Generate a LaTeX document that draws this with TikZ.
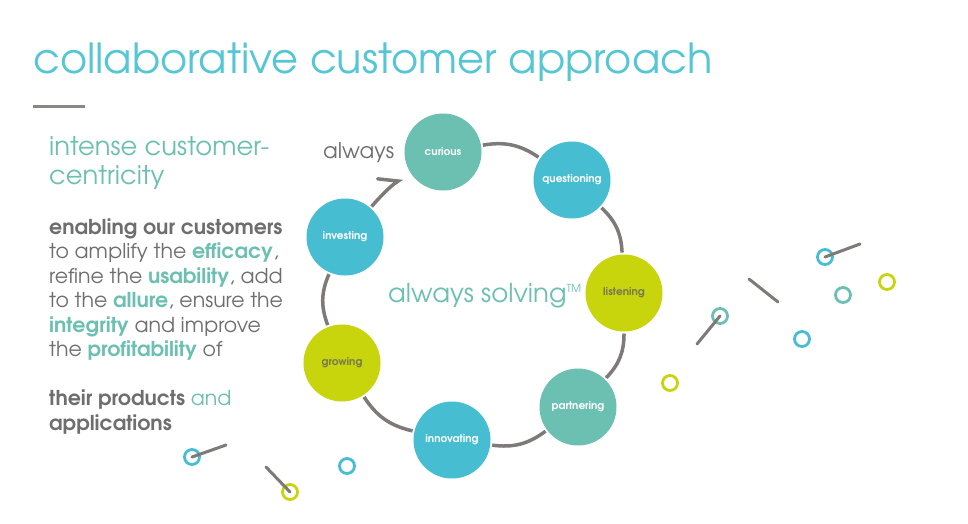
\documentclass[tikz,border=0pt]{standalone}
\usepackage{fontspec}
\setmainfont{TeX Gyre Adventor}
\usetikzlibrary{arrows.meta, positioning}

\definecolor{titlecyan}{HTML}{55C6D4}
\definecolor{skycyan}{HTML}{47BDD1}
\definecolor{seateal}{HTML}{6BC0B2}
\definecolor{limeyellow}{HTML}{C8D40C}
\definecolor{loopgray}{HTML}{7D7A79}
\definecolor{bodygray}{HTML}{6E6E6E}
\definecolor{labelolive}{HTML}{77784F}

\newcommand{\keyterm}[1]{\textcolor{seateal}{\textbf{#1}}}

\tikzset{
  stage/.style={circle, minimum size=77pt, inner sep=0pt, outer sep=2pt,
    font=\bfseries\fontsize{10.5}{12}\selectfont, text=white},
  cyanstage/.style={stage, fill=skycyan},
  tealstage/.style={stage, fill=seateal},
  limestage/.style={stage, fill=limeyellow, text=labelolive},
  loopline/.style={draw=loopgray, line width=3.5pt},
  ring/.style={circle, draw, line width=2.8pt, minimum size=15pt, inner sep=0pt},
  stick/.style={draw=loopgray, line width=3pt, line cap=round},
}

\begin{document}
\begin{tikzpicture}[x=1pt, y=-1pt]
  \path[fill=white] (0,0) rectangle (968,523);

  % heading
  \node[anchor=base west, inner sep=0pt, text=titlecyan, font=\fontsize{41.5}{48}\selectfont] (title) at (33,73) {collaborative customer approach};
  \draw[draw=loopgray!90, line width=3pt] (33,106) -- (85,106);

  % left column (base = last line)
  \node[anchor=base west, inner sep=0pt, align=left, text=seateal, font=\fontsize{25.8}{28.5}\selectfont] (intense) at (49,184) {intense customer-\\centricity};
  \node[anchor=base west, inner sep=0pt, align=left, text=bodygray, font=\fontsize{20.5}{24.5}\selectfont] (body) at (49,430)
    {\textbf{enabling our customers}\\
     to amplify the \keyterm{efficacy},\\
     refine the \keyterm{usability}, add\\
     to the \keyterm{allure}, ensure the\\
     \keyterm{integrity} and improve\\
     the \keyterm{profitability} of\\[24.5pt]
     \textbf{their products} \textcolor{seateal}{and}\\
     \textbf{applications}};

  % the loop
  \node[tealstage] (curious) at (443,152) {curious};
  \node[cyanstage] (questioning) at (572,180) {questioning};
  \node[limestage] (listening) at (624,293) {listening};
  \node[tealstage] (partnering) at (578,407) {partnering};
  \node[cyanstage] (innovating) at (452,440) {innovating};
  \node[limestage] (growing) at (342,363) {growing};
  \node[cyanstage] (investing) at (345,237) {investing};

  \draw[loopline] (curious) to[bend left=22] (questioning);
  \draw[loopline] (questioning) to[bend left=22] (listening);
  \draw[loopline] (listening) to[bend left=22] (partnering);
  \draw[loopline] (partnering) to[bend left=22] (innovating);
  \draw[loopline] (innovating) to[bend left=22] (growing);
  \draw[loopline] (growing) to[bend left=22] (investing);
  \draw[loopline, shorten >=8pt, -{Straight Barb[harpoon, length=16pt, width=26pt, line cap=round]}] (investing) to[bend left=8] (curious);

  \node[anchor=base west, inner sep=0pt, text=bodygray, font=\fontsize{21.5}{24}\selectfont] (always) at (323,158) {always};
  \node[anchor=base west, inner sep=0pt, text=seateal, font=\fontsize{26}{29}\selectfont] (solving) at (388,302) {always solving\textsuperscript{\fontsize{11}{11}\selectfont TM}};

  % scattered rings and sticks
  \node[ring, draw=skycyan] (r1) at (825,257) {};
  \node[ring, draw=limeyellow] (r2) at (887,282) {};
  \node[ring, draw=seateal] (r3) at (843,295) {};
  \node[ring, draw=seateal] (r4) at (720,316) {};
  \node[ring, draw=skycyan] (r5) at (802,339) {};
  \node[ring, draw=limeyellow] (r6) at (670,383) {};
  \node[ring, draw=skycyan] (r7) at (192,457) {};
  \node[ring, draw=limeyellow] (r8) at (290,492) {};
  \node[ring, draw=skycyan] (r9) at (347,466) {};

  \coordinate (s1) at (860,244);
  \coordinate (s2a) at (749,279);
  \coordinate (s2b) at (778,302);
  \coordinate (s4) at (697,344);
  \coordinate (s7) at (226,445);
  \coordinate (s8) at (266,467);

  \draw[stick] (r1.center) -- (s1);
  \draw[stick] (s2a) -- (s2b);
  \draw[stick] (r4.center) -- (s4);
  \draw[stick] (r7.center) -- (s7);
  \draw[stick] (s8) -- (r8.center);
\end{tikzpicture}
\end{document}
